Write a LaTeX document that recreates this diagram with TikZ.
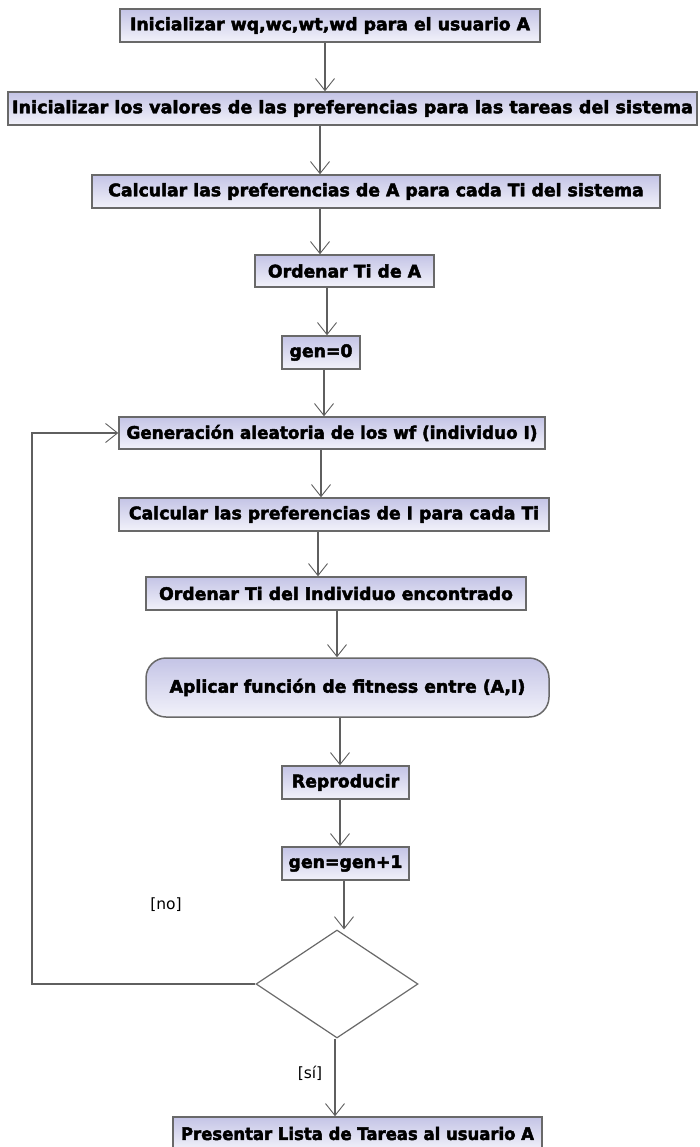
\documentclass[tikz,border=0pt]{standalone}
\usepackage{fontspec}
\setmainfont{DejaVu Sans}[BoldFeatures={FakeBold=2.6}]
\usetikzlibrary{arrows.meta,shapes.geometric}
\definecolor{edge}{RGB}{105,105,105}
\definecolor{wire}{RGB}{95,95,95}
\definecolor{lavtop}{RGB}{196,196,230}
\definecolor{lavbot}{RGB}{242,242,250}
\newcommand{\squeezeto}[2]{\resizebox{#1}{\height}{#2}}
\begin{document}
\begin{tikzpicture}[x=1pt,y=-1pt,
  act/.style={draw=edge, line width=1.5pt, top color=lavtop, bottom color=lavbot,
    minimum height=33pt, inner sep=0pt, font=\fontsize{17.3}{20}\selectfont\bfseries},
  actround/.style={act, rounded corners=20pt, minimum height=59pt},
  decision/.style={draw=edge, line width=1.2pt, diamond, fill=white, inner sep=0pt,
    minimum width=162pt, minimum height=108pt},
  conn/.style={draw=wire, line width=1.3pt, -{Straight Barb[length=12pt,width=19pt,line width=0.9pt]}},
  guard/.style={font=\fontsize{15.5}{18}\selectfont, inner sep=0pt}]
\useasboundingbox (0,0) rectangle (699,1147);
\fill[white] (0,0) rectangle (699,1147);

% activity nodes
\node[act, minimum width=420pt] (b1) at (330,25.5) {Inicializar wq,wc,wt,wd para el usuario A};
\node[act, minimum width=689pt] (b2) at (352.5,108.5) {\squeezeto{681pt}{Inicializar los valores de las preferencias para las tareas del sistema}};
\node[act, minimum width=568pt] (b3) at (376,191.5) {Calcular las preferencias de A para cada Ti del sistema};
\node[act, minimum width=179pt, minimum height=32pt] (b4) at (344.5,271) {Ordenar Ti de A};
\node[act, minimum width=78pt] (b5) at (321,352.5) {gen=0};
\node[act, minimum width=426pt, minimum height=32pt] (b6) at (332,433) {\squeezeto{411pt}{Generación aleatoria de los wf (individuo I)}};
\node[act, minimum width=430pt] (b7) at (334,514.5) {Calcular las preferencias de I para cada Ti};
\node[act, minimum width=380pt] (b8) at (336,593.5) {Ordenar Ti del Individuo encontrado};
\node[actround, minimum width=403pt] (b9) at (347.5,687.5) {Aplicar función de fitness entre (A,I)};
\node[act, minimum width=127pt] (b10) at (345.5,782.5) {Reproducir};
\node[act, minimum width=127pt] (b11) at (345.5,863.5) {gen=gen+1};
\node[decision] (dia) at (337,984) {};
\node[act, minimum width=369pt] (b12) at (357.5,1133.5) {\squeezeto{353pt}{Presentar Lista de Tareas al usuario A}};

% guards
\node[guard] (gno) at (166,905) {[no]};
\node[guard] (gsi) at (310,1073) {[sí]};

% control flow
\draw[conn] (b1.south -| 325,0) -- (b2.north -| 325,0);
\draw[conn] (b2.south -| 320,0) -- (b3.north -| 320,0);
\draw[conn] (b3.south -| 320,0) -- (b4.north -| 320,0);
\draw[conn] (b4.south -| 327,0) -- (b5.north -| 327,0);
\draw[conn] (b5.south -| 324,0) -- (b6.north -| 324,0);
\draw[conn] (b6.south -| 321,0) -- (b7.north -| 321,0);
\draw[conn] (b7.south -| 318,0) -- (b8.north -| 318,0);
\draw[conn] (b8.south -| 337,0) -- (b9.north -| 337,0);
\draw[conn] (b9.south -| 340,0) -- (b10.north -| 340,0);
\draw[conn] (b10.south -| 340,0) -- (b11.north -| 340,0);
\draw[conn] (b11.south -| 344,0) -- (dia.north -| 344,0);
\draw[conn] (dia.south -| 335,0) -- (b12.north -| 335,0);

% loop back to the generation step
\coordinate (loopx) at (32,700);
\draw[conn] (dia.west) -| (loopx) |- (b6.west);
\end{tikzpicture}
\end{document}
